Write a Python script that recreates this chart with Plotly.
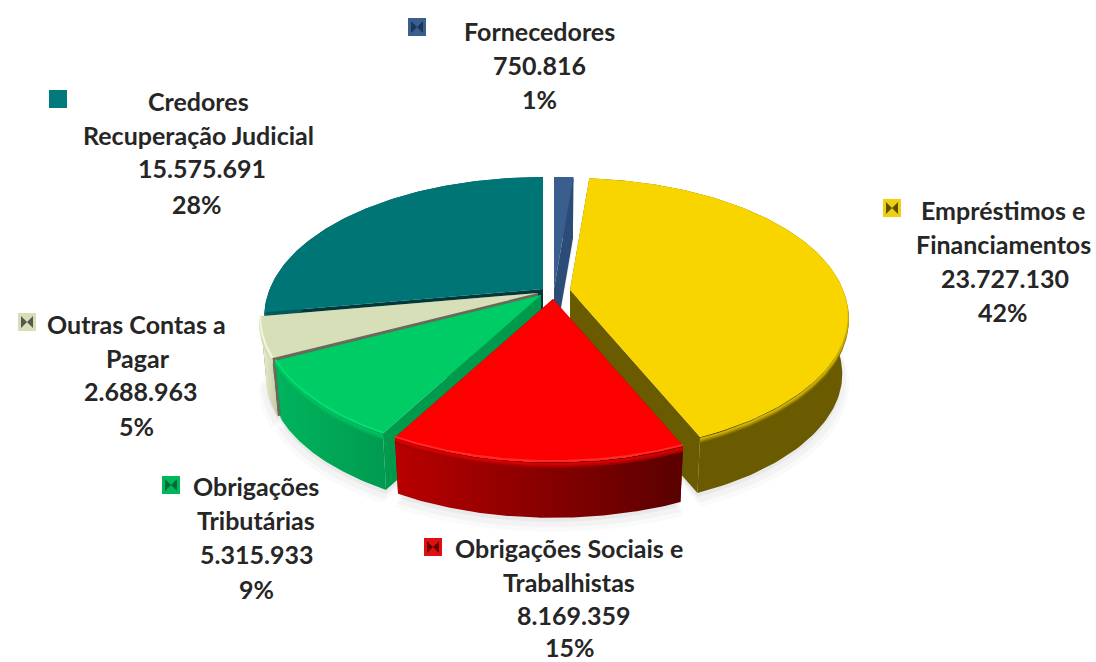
import numpy as np
import plotly.graph_objects as go

# ---- data ----
categories = ["Fornecedores", "Empréstimos e Financiamentos", "Obrigações Sociais e Trabalhistas",
              "Obrigações Tributárias", "Outras Contas a Pagar", "Credores Recuperação Judicial"]
values = [750816, 23727130, 8169359, 5315933, 2688963, 15575691]
value_labels = ["750.816", "23.727.130", "8.169.359", "5.315.933", "2.688.963", "15.575.691"]
pct_labels = ["1%", "42%", "15%", "9%", "5%", "28%"]
name_lines = [["Fornecedores"], ["Empréstimos e", "Financiamentos"], ["Obrigações Sociais e", "Trabalhistas"],
              ["Obrigações", "Tributárias"], ["Outras Contas a", "Pagar"], ["Credores", "Recuperação Judicial"]]

# ---- style / layout ----
apex = [(554, 289), (570, 290), (553, 299), (541, 295), (538, 293), (543, 289)]
top_c = ["#3a5f8f", "#f9d500", "#ff0000", "#00cc66", "#d6dfb8", "#007575"]
cut_c = ["#2c4c78", "#6a5a00", "#7a0000", "#009a4c", "#6e685c", "#00393c"]
side_l = ["#2c4c78", "#6a5a00", "#b80000", "#00b45c", "#eef3cf", "#005a5a"]
side_r = ["#2c4c78", "#6a5a00", "#5a0000", "#009a50", "#c4c9a8", "#005a5a"]
high_c = [None, None, "#ff2a2a", "#00e070", "#f2f7d8", None]
key_c = ["#3a5f8f", "#f0cf10", "#e01010", "#00b85c", "#d6dfb8", "#007a7a"]
key_d = ["#1d3558", "#5c5000", "#6a0000", "#006a3a", "#55584a", "#007a7a"]
key_xy = [(417, 27), (892, 208), (433, 547), (171, 485), (27, 322), (58, 99)]
text_xy = [[(539, 31), (539, 65), (539, 99)],
           [(1003, 210), (1003, 244), (1005, 278), (1003, 312)],
           [(569, 548), (569, 582), (573, 615), (570, 647)],
           [(256, 486), (256, 520), (256, 554), (256, 589)],
           [(136, 324), (138, 358), (140, 391), (136, 426)],
           [(198, 101), (198, 135), (202, 168), (197, 204)]]
order = [5, 0, 4, 3, 1, 2]
R, RY, K, DEPTH, BOTTOM = 273.0, 132.8, 0.1855, 59.0, 0.98
FONT = dict(family="Lato, Calibri, sans-serif", size=25, color="#262626")


def proj(theta, r=1.0):
    u, v = np.sin(theta), -np.cos(theta)
    s = 1 / (1 - K * r * v)
    return R * r * u * s, RY * r * v * s, s


def hex2(c):
    return np.array([int(c[i:i + 2], 16) for i in (1, 3, 5)], float)


def blend(a, b, t):
    m = hex2(a) * (1 - t) + hex2(b) * t
    return "#%02x%02x%02x" % tuple(int(v) for v in m)


def poly(xs, ys, color=None, grad=None):
    kw = dict(x=list(xs), y=list(ys), mode="lines", line=dict(width=0), fill="toself",
              hoverinfo="skip", showlegend=False)
    if grad:
        kw["fillgradient"] = dict(type="horizontal", colorscale=[[0, grad[0]], [1, grad[1]]])
    else:
        kw["fillcolor"] = color
    return go.Scatter(**kw)


fig = go.Figure()
total = sum(values)
cum = np.cumsum([0] + values) / total * 2 * np.pi
span = {i: (cum[i], cum[i + 1]) for i in range(len(values))}

# soft ground shadow
for grow, extra, alpha in [(1.025, 10, 0.025), (1.015, 7, 0.035), (1.0, 4, 0.05)]:
    for i in order:
        t = np.linspace(span[i][0], span[i][1], 80)
        px, py, ps = proj(t)
        ax, ay = apex[i]
        X = ax + px * BOTTOM * grow
        Y = ay + py * BOTTOM * grow + DEPTH + extra
        fig.add_trace(poly(np.r_[ax, X], np.r_[ay + DEPTH, Y], "rgba(60,60,60,%g)" % alpha))

# slices, back to front
for i in order:
    t0, t1 = span[i]
    t = np.linspace(t0, t1, 120)
    ax, ay = apex[i]
    px, py, ps = proj(t)
    X, Y = ax + px, ay + py
    XB, YB = ax + px * BOTTOM, ay + py * BOTTOM + DEPTH
    # cut faces
    for k in (0, -1):
        fig.add_trace(poly([ax, X[k], XB[k], ax], [ay, Y[k], YB[k], ay + DEPTH], cut_c[i]))
    # outer wall
    fig.add_trace(poly(np.r_[X, XB[::-1]], np.r_[Y, YB[::-1]], grad=(side_l[i], side_r[i])))
    # bevel between top and wall
    wall = blend(side_l[i], side_r[i], 0.5)
    for off, mix in [(5.0, 0.8), (3.5, 0.55), (2.0, 0.3)]:
        fig.add_trace(go.Scatter(x=X, y=Y + off, mode="lines", hoverinfo="skip", showlegend=False,
                                 line=dict(width=2, color=blend(top_c[i], wall, mix))))
    # top surface
    fig.add_trace(poly(np.r_[ax, X], np.r_[ay, Y], top_c[i]))
    if high_c[i]:
        fig.add_trace(go.Scatter(x=X, y=Y - 1, mode="lines", hoverinfo="skip", showlegend=False,
                                 line=dict(width=2, color=high_c[i])))

# legend keys
fig.add_trace(go.Scatter(x=[p[0] for p in key_xy], y=[p[1] for p in key_xy], mode="markers", hoverinfo="skip",
                         showlegend=False, marker=dict(symbol="square", size=18, color=key_c)))
fig.add_trace(go.Scatter(x=[p[0] for p in key_xy], y=[p[1] for p in key_xy], mode="markers", hoverinfo="skip",
                         showlegend=False, marker=dict(symbol="bowtie", size=12, color=key_d)))

# labels
for i in range(len(values)):
    lines = name_lines[i] + [value_labels[i], pct_labels[i]]
    for txt, (x, y) in zip(lines, text_xy[i]):
        fig.add_annotation(x=x, y=y, text="<b>%s</b>" % txt, showarrow=False, font=FONT,
                           xanchor="center", yanchor="middle")

fig.update_layout(width=1096, height=662, margin=dict(l=0, r=0, t=0, b=0), autosize=False,
                  paper_bgcolor="white", plot_bgcolor="white", showlegend=False,
                  xaxis=dict(range=[0, 1096], visible=False, fixedrange=True),
                  yaxis=dict(range=[662, 0], visible=False, fixedrange=True))
fig.write_html("out.html", config=dict(displayModeBar=False),
               post_script="document.body.style.margin='0';document.body.style.overflow='hidden';")
